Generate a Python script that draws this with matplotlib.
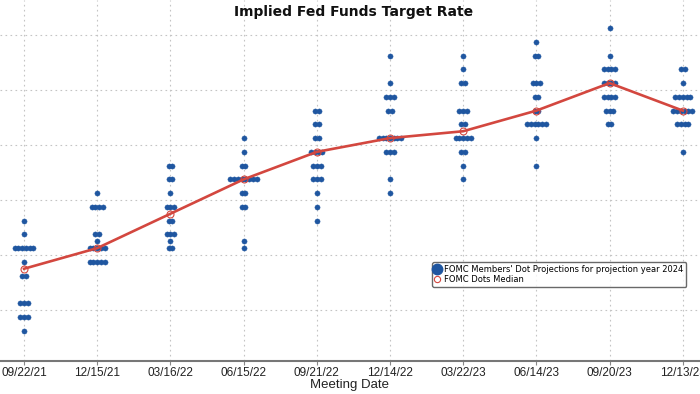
import numpy as np
import matplotlib
matplotlib.use("Agg")
import matplotlib.pyplot as plt
from matplotlib.lines import Line2D

meetings = ['09/22/21', '12/15/21', '03/16/22', '06/15/22', '09/21/22',
            '12/14/22', '03/22/23', '06/14/23', '09/20/23', '12/13/23']

# 2024 dot levels and how many members sit on each level, per meeting
dot_rates = [
    [2.625, 2.375, 2.125, 1.875, 1.625, 1.125, 0.875, 0.625],
    [3.125, 2.875, 2.375, 2.25, 2.125, 1.875],
    [3.625, 3.375, 3.125, 2.875, 2.625, 2.375, 2.25, 2.125],
    [4.125, 3.875, 3.625, 3.375, 3.125, 2.875, 2.25, 2.125],
    [4.625, 4.375, 4.125, 3.875, 3.625, 3.375, 3.125, 2.875, 2.625],
    [5.625, 5.125, 4.875, 4.625, 4.125, 3.875, 3.375, 3.125],
    [5.625, 5.375, 5.125, 4.625, 4.375, 4.125, 3.875, 3.625, 3.375],
    [5.875, 5.625, 5.125, 4.875, 4.625, 4.375, 4.125, 3.625],
    [6.125, 5.625, 5.375, 5.125, 4.875, 4.625, 4.375],
    [5.375, 5.125, 4.875, 4.625, 4.375, 3.875],
]
dot_counts = [
    [1, 1, 6, 1, 2, 3, 3, 1],
    [1, 4, 2, 1, 5, 5],
    [2, 2, 1, 3, 2, 3, 1, 2],
    [1, 1, 2, 8, 2, 2, 1, 1],
    [2, 2, 2, 4, 3, 3, 1, 1, 1],
    [1, 1, 3, 2, 7, 3, 1, 1],
    [1, 1, 2, 3, 2, 5, 2, 1, 1],
    [1, 2, 3, 2, 2, 6, 1, 1],
    [1, 1, 4, 4, 4, 3, 2],
    [2, 1, 5, 6, 4, 1],
]
medians = [1.75, 2.125, 2.75, 3.375, 3.875, 4.125, 4.25, 4.625, 5.125, 4.625]

blue = '#1f56a0'
red = '#d3473f'
narrow = ['Liberation Sans', 'DejaVu Sans']

fig = plt.figure(figsize=(7, 3.94), dpi=100)
ax = fig.add_axes([0, 33/394, 1, 361/394])

# spread dots sideways when several members share a level
step = 0.0512
xs, ys = [], []
for i in range(len(meetings)):
    for r, n in zip(dot_rates[i], dot_counts[i]):
        for k in range(n):
            xs.append(i + (k - (n - 1) / 2) * step)
            ys.append(r)
ax.scatter(xs, ys, s=14, color=blue, zorder=3, linewidths=0.3, edgecolors=blue)

x = np.arange(len(meetings))
ax.plot(x, medians, color=red, lw=1.9, zorder=4)
ax.plot(x, medians, 'o', ms=5, mfc='none', mec=red, mew=0.8, zorder=5)

ax.set_xlim(-24/73.2, (700-24)/73.2)
ax.set_ylim(0.073, 6.636)
ax.set_xticks(x)
ax.set_xticklabels(meetings, family=narrow, fontsize=8.5, color='#222222')
ax.set_yticks([1, 2, 3, 4, 5, 6])
ax.set_yticklabels([])
ax.tick_params(axis='y', length=0)
ax.tick_params(axis='x', length=3, color='#888888', pad=1.5)
ax.grid(True, color='#c4c4c4', linestyle=(0, (1.5, 3)), lw=0.8)
for s in ['top', 'left', 'right']:
    ax.spines[s].set_visible(False)
ax.spines['bottom'].set_color('#777777')
ax.spines['bottom'].set_linewidth(1.5)
ax.set_xlabel('Meeting Date', family=narrow, fontsize=9.5, color='#222222', labelpad=0)

fig.text(354/700, 1 - 12/394, 'Implied Fed Funds Target Rate', ha='center', va='center',
         fontsize=10, fontweight='bold', color='#111111')

handles = [Line2D([], [], marker='o', ls='none', ms=7.5, color=blue),
           Line2D([], [], marker='o', ls='none', ms=4.5, mfc='none', mec=red, mew=0.8)]
leg = ax.legend(handles, ["FOMC Members' Dot Projections for projection year 2024",
                          'FOMC Dots Median'],
                loc='upper left', bbox_to_anchor=(432/700, 1 - 262/394),
                bbox_transform=fig.transFigure, fontsize=6.0, frameon=True,
                fancybox=True, handlelength=0.6, handletextpad=0.5,
                borderpad=0.35, labelspacing=0.15, borderaxespad=0)
leg.get_frame().set_edgecolor('#444444')
leg.get_frame().set_linewidth(1.0)

fig.savefig('out.png', dpi=100)
